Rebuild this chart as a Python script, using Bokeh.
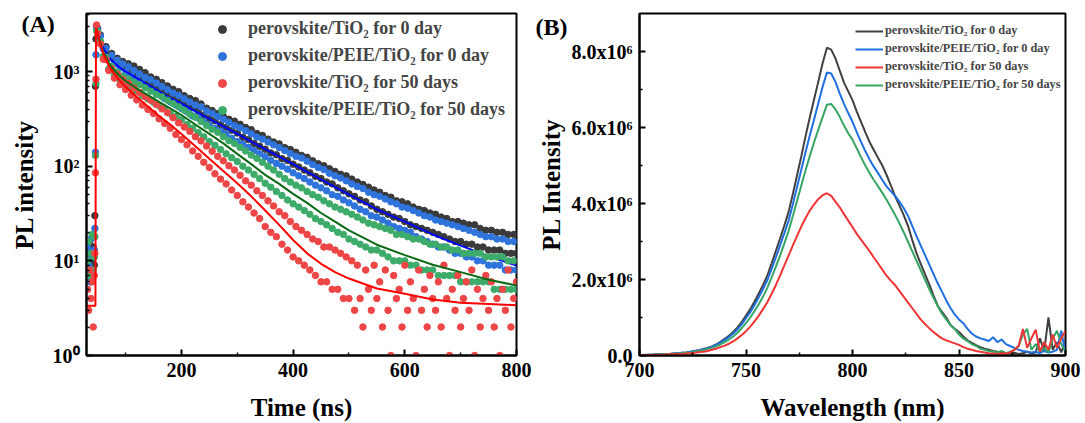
import numpy as np
from bokeh.plotting import figure
from bokeh.layouts import row
from bokeh.models import FixedTicker, Legend, LegendItem, ColumnDataSource, Title
from bokeh.embed import file_html
from bokeh.resources import INLINE

FONT = "Liberation Serif"

# ---------------- Panel A : TRPL decay ----------------
time_ns = [32, 34, 36, 38, 40, 42, 44, 45, 46, 47, 48] + list(range(50, 801, 5))

tio2_0d = [12, 8, 15, 6, 10, 14, 9, 30, 700, 2200, 3000,
    2850, 2430, 1820, 1830, 1514, 1549, 1318, 1380, 1202, 1274,
    1096, 1209, 1012, 1141, 933, 1053, 861, 972, 776, 876,
    716, 827, 676, 763, 610, 704, 562, 649, 531, 613,
    479, 556, 437, 519, 417, 493, 385, 454, 347, 410,
    320, 387, 302, 359, 275, 335, 257, 313, 240, 299,
    224, 277, 202, 256, 191, 243, 174, 221, 162, 211,
    151, 193, 138, 180, 132, 172, 120, 157, 115, 150,
    105, 140, 98, 130, 91, 124, 85, 114, 78, 106,
    74, 101, 68, 94, 65, 88, 59, 82, 55, 79,
    51, 73, 48, 68, 44, 64, 42, 60, 38, 56,
    35, 53, 33, 49, 31, 47, 29, 43, 28, 42,
    26, 40, 24, 37, 23, 35, 22, 34, 21, 32,
    20, 31, 19, 29, 18, 28, 17, 26, 16, 26,
    16, 25, 15, 24, 15, 24, 14, 22, 14, 21,
    13, 21, 13, 20, 13, 20, 12, 19, 12, 19, 12]

peie_0d = [14, 9, 6, 17, 11, 7, 13, 22, 140, 1500, 2950,
    2790, 2371, 1738, 1758, 1380, 1479, 1202, 1318, 1096, 1202,
    977, 1122, 891, 1023, 813, 939, 733, 866, 676, 817,
    624, 754, 575, 696, 519, 642, 479, 592, 442, 559,
    407, 516, 376, 476, 339, 442, 324, 422, 295, 382,
    272, 361, 251, 335, 234, 313, 219, 290, 197, 268,
    182, 254, 170, 237, 158, 220, 146, 203, 135, 193,
    126, 180, 115, 168, 107, 157, 100, 146, 93, 136,
    85, 127, 79, 122, 74, 113, 68, 104, 63, 97,
    59, 92, 55, 84, 50, 79, 48, 75, 44, 70,
    41, 65, 38, 61, 35, 58, 33, 53, 30, 50,
    29, 48, 27, 45, 25, 42, 23, 40, 22, 37,
    21, 36, 20, 34, 18, 32, 17, 30, 16, 29,
    15, 27, 14, 26, 14, 25, 13, 24, 12, 23,
    12, 22, 11, 21, 11, 20, 10, 19, 10, 18,
    9, 18, 9, 17, 9, 17, 8, 16, 8, 16, 8]

peie_50d = [10, 16, 7, 12, 19, 8, 11, 18, 130, 750, 2700,
    2630, 2089, 1445, 1413, 1072, 1135, 912, 989, 813, 891,
    724, 836, 668, 772, 617, 729, 556, 672, 513, 620,
    473, 572, 437, 540, 403, 498, 363, 460, 335, 424,
    309, 389, 275, 355, 251, 329, 226, 297, 204, 269,
    182, 245, 166, 228, 150, 205, 135, 186, 123, 174,
    112, 158, 100, 145, 91, 131, 82, 121, 74, 110,
    66, 100, 60, 91, 54, 82, 49, 74, 44, 68,
    40, 63, 37, 59, 34, 54, 31, 50, 28, 47,
    26, 43, 24, 40, 22, 37, 20, 35, 19, 33,
    17, 31, 16, 29, 15, 27, 14, 25, 13, 24,
    13, 23, 12, 22, 11, 21, 10, 19, 10, 19,
    10, 18, 9, 17, 9, 17, 8, 16, 8, 15,
    8, 15, 7, 14, 7, 14, 7, 13, 7, 13,
    6, 12, 6, 12, 6, 12, 6, 12, 6, 11,
    6, 11, 5, 11, 5, 11, 5, 10, 5, 10, 5]

tio2_50d = [5, 3, 8, 4, 6, 2, 7, 12, 85, 830, 3100,
    2510, 1950, 1349, 1334, 1023, 1072, 851, 933, 724, 822,
    646, 750, 562, 668, 501, 599, 442, 540, 398, 498,
    359, 449, 316, 403, 282, 367, 251, 325, 216, 287,
    191, 259, 168, 233, 145, 205, 127, 185, 110, 163,
    97, 144, 83, 127, 73, 114, 65, 101, 56, 91,
    49, 80, 42, 70, 37, 63, 32, 55, 28, 49,
    23, 43, 20, 38, 18, 33, 15, 30, 13, 26,
    11, 23, 10, 21, 9, 19, 8, 17, 7, 16,
    6, 14, 6, 14, 5, 13, 5, 12, 4, 11,
    4, 10, 3, 9, 4, 2, 8, 5, 3, 9,
    4, 6, 2, 8, 3, 1, 7, 4, 5, 2,
    9, 3, 6, 4, 1, 8, 3, 5, 2, 7,
    4, 3, 6, 2, 9, 4, 1, 5, 3, 7,
    2, 4, 6, 3, 8, 1, 5, 2, 4, 7,
    3, 6, 2, 4, 1, 5, 3, 8, 2, 4, 6]

# fitted decay curves
fit_time = [47, 50, 55, 60, 70, 80, 90, 100, 120, 140, 160, 180, 200, 225, 250, 275,
            300, 325, 350, 375, 400, 425, 450, 475, 500, 550, 600, 650, 700, 750, 800]
fit_peie_0d = [2880, 2630, 2140, 1780, 1410, 1230, 1096, 1000, 851, 724, 617, 525, 457, 380, 316, 263,
               219, 182, 151, 126, 105, 87, 72, 60, 50, 35, 26, 19, 14.5, 11.2, 8.9]
fit_peie_50d = [2750, 2510, 1995, 1620, 1230, 1023, 891, 794, 661, 562, 479, 407, 347, 275, 219, 174,
                135, 105, 81, 65, 51, 41, 32, 26, 21, 14.8, 11.5, 9.1, 7.6, 6.3, 5.5]
fit_time_tio2_50d = [31, 46, 47, 50, 55, 60, 70, 80, 90, 100, 120, 140, 160, 180, 200, 225, 250, 275,
                     300, 325, 350, 375, 400, 425, 450, 475, 500, 550, 600, 650, 700, 750, 800]
fit_tio2_50d = [3.35, 3.35, 2880, 2510, 1905, 1550, 1148, 933, 794, 692, 537, 427, 339, 275, 219, 162, 120, 89,
                66, 48, 34, 24, 16.6, 12.0, 9.3, 7.6, 6.5, 5.1, 4.5, 3.9, 3.6, 3.5, 3.4]

# ---------------- Panel B : steady-state PL (x10^6 counts) ----------------
wavelength_nm = list(range(700, 901, 2))

pl_tio2_0d = [0.01, 0.01, 0.02, 0.02, 0.03, 0.03, 0.04, 0.04, 0.05, 0.06, 0.07, 0.08, 0.10, 0.12, 0.14, 0.17, 0.20, 0.24, 0.29, 0.36,
    0.44, 0.52, 0.62, 0.74, 0.88, 1.05, 1.22, 1.42, 1.63, 1.86, 2.10, 2.42, 2.75, 3.08, 3.42, 3.78, 4.25, 4.75, 5.25, 5.78,
    6.28, 6.75, 7.22, 7.70, 8.10, 8.05, 7.82, 7.50, 7.18, 6.95, 6.72, 6.42, 6.15, 5.88, 5.62, 5.41, 5.20, 5.00, 4.75, 4.48,
    4.19, 3.95, 3.70, 3.42, 3.05, 2.70, 2.42, 2.15, 1.88, 1.58, 1.31, 1.15, 1.00, 0.80, 0.70, 0.62, 0.50, 0.40, 0.33, 0.27,
    0.22, 0.18, 0.15, 0.12, 0.10, 0.08, 0.06, 0.05, 0.07, 0.04, 0.06, 0.10, 0.05, 0.08, 0.45, 0.12, 1.00, 0.15, 0.35, 0.08,
    0.40]
pl_peie_0d = [0.01, 0.01, 0.02, 0.02, 0.03, 0.03, 0.04, 0.04, 0.05, 0.06, 0.07, 0.08, 0.10, 0.12, 0.14, 0.16, 0.19, 0.23, 0.28, 0.34,
    0.41, 0.49, 0.58, 0.69, 0.82, 0.98, 1.14, 1.33, 1.53, 1.75, 1.98, 2.27, 2.58, 2.90, 3.22, 3.55, 3.98, 4.44, 4.90, 5.36,
    5.80, 6.22, 6.65, 7.08, 7.45, 7.42, 7.20, 6.90, 6.62, 6.38, 6.15, 5.88, 5.62, 5.38, 5.16, 4.97, 4.80, 4.62, 4.45, 4.32,
    4.20, 4.05, 3.88, 3.68, 3.42, 3.15, 2.90, 2.65, 2.40, 2.15, 1.90, 1.68, 1.45, 1.25, 1.08, 0.95, 0.85, 0.70, 0.58, 0.50,
    0.45, 0.42, 0.38, 0.48, 0.35, 0.42, 0.30, 0.25, 0.20, 0.15, 0.12, 0.10, 0.08, 0.10, 0.06, 0.12, 0.08, 0.10, 0.15, 0.65,
    0.05]
pl_tio2_50d = [0.01, 0.01, 0.01, 0.01, 0.02, 0.02, 0.02, 0.03, 0.03, 0.04, 0.04, 0.05, 0.06, 0.07, 0.09, 0.10, 0.12, 0.15, 0.18, 0.22,
    0.26, 0.31, 0.37, 0.45, 0.54, 0.64, 0.76, 0.90, 1.05, 1.22, 1.40, 1.62, 1.85, 2.10, 2.37, 2.63, 2.90, 3.15, 3.40, 3.62,
    3.82, 3.98, 4.12, 4.22, 4.27, 4.20, 4.05, 3.90, 3.72, 3.55, 3.38, 3.20, 3.05, 2.90, 2.75, 2.58, 2.42, 2.26, 2.10, 1.97,
    1.85, 1.70, 1.55, 1.40, 1.25, 1.10, 0.95, 0.83, 0.72, 0.62, 0.53, 0.45, 0.40, 0.36, 0.32, 0.28, 0.22, 0.18, 0.15, 0.12,
    0.10, 0.08, 0.06, 0.05, 0.04, 0.06, 0.05, 0.08, 0.15, 0.25, 0.70, 0.20, 0.45, 0.68, 0.10, 0.35, 0.15, 0.55, 0.20, 0.45,
    0.65]
pl_peie_50d = [0.01, 0.01, 0.01, 0.02, 0.02, 0.03, 0.03, 0.04, 0.04, 0.05, 0.06, 0.07, 0.08, 0.10, 0.12, 0.14, 0.17, 0.20, 0.24, 0.29,
    0.35, 0.42, 0.50, 0.60, 0.72, 0.85, 1.00, 1.17, 1.35, 1.55, 1.78, 2.05, 2.33, 2.63, 2.95, 3.28, 3.67, 4.08, 4.48, 4.88,
    5.26, 5.62, 5.95, 6.28, 6.60, 6.62, 6.48, 6.28, 6.05, 5.85, 5.68, 5.45, 5.22, 5.00, 4.80, 4.62, 4.45, 4.28, 4.10, 3.90,
    3.70, 3.48, 3.25, 3.00, 2.75, 2.50, 2.25, 2.00, 1.75, 1.52, 1.30, 1.10, 0.95, 0.80, 0.70, 0.55, 0.45, 0.38, 0.30, 0.25,
    0.18, 0.15, 0.12, 0.10, 0.08, 0.12, 0.06, 0.10, 0.15, 0.25, 0.55, 0.70, 0.15, 0.30, 0.10, 0.20, 0.08, 0.45, 0.65, 0.30,
    0.10]

labels = ["perovskite/TiO\u2082 for 0 day", "perovskite/PEIE/TiO\u2082 for 0 day",
          "perovskite/TiO\u2082 for 50 days", "perovskite/PEIE/TiO\u2082 for 50 days"]

C_BLACK, C_BLUE, C_RED, C_GREEN = "#3a3a3a", "#2f74dc", "#ee4646", "#3dab6a"
L_BLACK, L_BLUE, L_RED, L_GREEN = "#404040", "#1f6fe0", "#ef3535", "#36a565"


def style(p):
    p.xgrid.visible = False
    p.ygrid.visible = False
    p.outline_line_color = "black"
    p.outline_line_width = 2
    p.outline_line_alpha = 1
    p.background_fill_color = "white"
    p.border_fill_color = "white"
    for ax in p.below + p.left:
        ax.axis_line_width = 2
        ax.axis_line_color = "black"
        ax.major_tick_in = 6
        ax.major_tick_out = 0
        ax.minor_tick_in = 3
        ax.minor_tick_out = 0
        ax.major_tick_line_width = 2
        ax.minor_tick_line_width = 1.5
        ax.major_label_text_font = FONT
        ax.major_label_text_font_style = "bold"
        ax.major_label_text_font_size = "20px"
        ax.major_label_text_color = "black"
        ax.axis_label_text_font = FONT
        ax.axis_label_text_font_style = "bold"
        ax.axis_label_text_font_size = "25px"
        ax.axis_label_text_color = "black"


def panel_tag(text, offset, standoff):
    return Title(text=text, align="left", offset=offset, standoff=standoff,
                 text_font=FONT, text_font_style="bold", text_font_size="24px",
                 text_color="black")


# ---- figure A
pA = figure(width=532, height=423, y_axis_type="log", x_range=(30, 800), y_range=(1, 4100),
            output_backend="svg", toolbar_location=None,
            min_border_left=86, min_border_right=16, min_border_top=13, min_border_bottom=66)
style(pA)
pA.xaxis.axis_label = "Time (ns)"
pA.yaxis.axis_label = "PL intensity"
pA.xaxis.ticker = FixedTicker(ticks=[200, 400, 600, 800], minor_ticks=[100, 300, 500, 700])
minor_log = [m * 10 ** k for k in range(0, 4) for m in range(2, 10)]
pA.yaxis.ticker = FixedTicker(ticks=[1, 10, 100, 1000], minor_ticks=minor_log)
pA.yaxis.major_label_overrides = {1: "10\u2070", 10: "10\u00b9", 100: "10\u00b2", 1000: "10\u00b3"}
pA.xaxis.major_label_standoff = 7
pA.xaxis.axis_label_standoff = 14
pA.yaxis.major_label_standoff = 7
pA.yaxis.axis_label_standoff = 12

srcA = ColumnDataSource(dict(t=time_ns, k0=tio2_0d, b0=peie_0d, g50=peie_50d, r50=tio2_50d))
MS = 6.5
rk = pA.scatter("t", "k0", source=srcA, size=MS, fill_color=C_BLACK, line_color=C_BLACK)
rb = pA.scatter("t", "b0", source=srcA, size=MS, fill_color=C_BLUE, line_color=C_BLUE)
pA.line(fit_time, fit_peie_0d, line_color="#0000ff", line_width=2)
rg = pA.scatter("t", "g50", source=srcA, size=MS, fill_color=C_GREEN, line_color=C_GREEN)
rr = pA.scatter("t", "r50", source=srcA, size=MS, fill_color=C_RED, line_color=C_RED)
pA.line(fit_time, fit_peie_50d, line_color="#0a6a14", line_width=2)
pA.line(fit_time_tio2_50d, fit_tio2_50d, line_color="#ff0000", line_width=2)

legA = Legend(items=[LegendItem(label=labels[0], renderers=[rk]),
                     LegendItem(label=labels[1], renderers=[rb]),
                     LegendItem(label=labels[2], renderers=[rr]),
                     LegendItem(label=labels[3], renderers=[rg])],
              location=(126, 235), padding=0, margin=0, spacing=6,
              glyph_width=20, glyph_height=20, label_height=20, label_standoff=16,
              label_text_font=FONT, label_text_font_style="bold", label_text_font_size="18px",
              border_line_alpha=0, background_fill_alpha=0)
pA.add_layout(legA)
pA.title = panel_tag("(A)", -65, -47)

# ---- figure B
pB = figure(width=553, height=423, x_range=(700, 900), y_range=(0, 9.0e6),
            output_backend="svg", toolbar_location=None,
            min_border_left=107, min_border_right=20, min_border_top=13, min_border_bottom=66)
style(pB)
pB.xaxis.axis_label = "Wavelength (nm)"
pB.yaxis.axis_label = "PL Intensity"
pB.xaxis.ticker = FixedTicker(ticks=[700, 750, 800, 850, 900], minor_ticks=[725, 775, 825, 875])
pB.yaxis.ticker = FixedTicker(ticks=[0, 2e6, 4e6, 6e6, 8e6], minor_ticks=[1e6, 3e6, 5e6, 7e6])
pB.yaxis.major_label_overrides = {0: "0.0", 2000000: "2.0x10\u2076", 4000000: "4.0x10\u2076",
                                  6000000: "6.0x10\u2076", 8000000: "8.0x10\u2076"}
pB.xaxis.major_label_standoff = 7
pB.xaxis.axis_label_standoff = 14
pB.yaxis.major_label_standoff = 7
pB.yaxis.axis_label_standoff = 4

wl = np.array(wavelength_nm)
lk = pB.line(wl, np.array(pl_tio2_0d) * 1e6, line_color=L_BLACK, line_width=2)
lb = pB.line(wl, np.array(pl_peie_0d) * 1e6, line_color=L_BLUE, line_width=2)
lg = pB.line(wl, np.array(pl_peie_50d) * 1e6, line_color=L_GREEN, line_width=2)
lr = pB.line(wl, np.array(pl_tio2_50d) * 1e6, line_color=L_RED, line_width=2)

legB = Legend(items=[LegendItem(label=labels[0], renderers=[lk]),
                     LegendItem(label=labels[1], renderers=[lb]),
                     LegendItem(label=labels[2], renderers=[lr]),
                     LegendItem(label=labels[3], renderers=[lg])],
              location=(216, 263), padding=0, margin=0, spacing=3,
              glyph_width=28, glyph_height=14, label_height=14, label_standoff=2,
              label_text_font=FONT, label_text_font_style="bold", label_text_font_size="12.3px",
              border_line_alpha=0, background_fill_alpha=0)
pB.add_layout(legB)
pB.title = panel_tag("(B)", -104, -53)

layout = row(pA, pB)
open("out.html", "w").write(file_html(layout, INLINE))
